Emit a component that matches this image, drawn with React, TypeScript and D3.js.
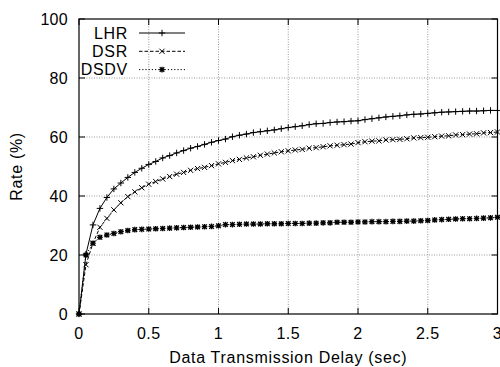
import React from "react";
import * as d3 from "d3";

const delays: number[] = Array.from({ length: 61 }, (_, i) => +(i * 0.05).toFixed(2));

const lhr: number[] = [
  0, 20.3, 30.2, 35.8, 39.5, 42.4, 44.4, 46.3, 48.0, 49.4, 50.7,
  51.7, 52.9, 53.7, 54.6, 55.4, 56.2, 56.8, 57.5, 58.2, 58.8,
  59.3, 60.1, 60.6, 61.0, 61.5, 61.8, 62.1, 62.4, 62.8, 63.2,
  63.5, 63.8, 64.2, 64.5, 64.6, 64.9, 65.1, 65.2, 65.4, 65.5,
  65.9, 66.2, 66.5, 66.8, 67.0, 67.2, 67.5, 67.7, 67.8, 68.0,
  68.2, 68.4, 68.5, 68.6, 68.7, 68.8, 68.8, 68.9, 69.0, 69.0,
];

const dsr: number[] = [
  0, 16.7, 24.0, 29.4, 32.4, 35.3, 37.7, 39.8, 41.4, 42.8, 44.0,
  44.9, 45.8, 46.6, 47.4, 48.0, 48.7, 49.3, 49.7, 50.3, 50.9,
  51.4, 52.0, 52.4, 52.9, 53.3, 53.8, 54.2, 54.6, 55.0, 55.3,
  55.6, 55.8, 56.2, 56.4, 56.7, 57.0, 57.2, 57.4, 57.6, 58.1,
  58.4, 58.6, 58.7, 59.0, 59.1, 59.2, 59.4, 59.7, 59.8, 59.9,
  60.1, 60.3, 60.4, 60.7, 60.8, 61.0, 61.1, 61.4, 61.5, 61.7,
];

const dsdv: number[] = [
  0, 20.0, 24.0, 26.0, 26.8, 27.3, 27.9, 28.3, 28.6, 28.7, 28.8,
  28.9, 29.0, 29.1, 29.2, 29.3, 29.4, 29.5, 29.6, 29.7, 29.9,
  30.3, 30.3, 30.4, 30.5, 30.5, 30.5, 30.6, 30.6, 30.6, 30.7,
  30.7, 30.7, 30.8, 30.8, 30.9, 30.9, 31.1, 31.1, 31.1, 31.2,
  31.2, 31.3, 31.3, 31.3, 31.4, 31.4, 31.5, 31.5, 31.6, 31.7,
  31.9, 32.0, 32.1, 32.2, 32.3, 32.3, 32.4, 32.5, 32.6, 32.8,
];

const xTicks: number[] = [0, 0.5, 1, 1.5, 2, 2.5, 3];
const yTicks: number[] = [0, 20, 40, 60, 80, 100];
const seriesNames: string[] = ["LHR", "DSR", "DSDV"];

const FONT = "'Liberation Sans', Arial, sans-serif";

type Kind = "plus" | "cross" | "star";

function Marker({ x, y, kind }: { x: number; y: number; kind: Kind }) {
  const p = kind === "star" ? 2.8 : 3.2;
  const c = kind === "star" ? 2.3 : 2.6;
  const plus = `M${x - p},${y}H${x + p}M${x},${y - p}V${y + p}`;
  const cross = `M${x - c},${y - c}L${x + c},${y + c}M${x - c},${y + c}L${x + c},${y - c}`;
  const d = kind === "plus" ? plus : kind === "cross" ? cross : plus + cross;
  return <path d={d} stroke="#000" strokeWidth={kind === "star" ? 1.3 : 1} fill="none" />;
}

export default function App() {
  const W = 500;
  const H = 367;
  const left = 79;
  const right = 497.5;
  const top = 19;
  const bottom = 314;

  const x = d3.scaleLinear().domain([0, 3]).range([left, right]);
  const y = d3.scaleLinear().domain([0, 100]).range([bottom, top]);

  const series = [
    { name: seriesNames[0], data: lhr, kind: "plus" as Kind, dash: undefined as string | undefined },
    { name: seriesNames[1], data: dsr, kind: "cross" as Kind, dash: "3.5,2" },
    { name: seriesNames[2], data: dsdv, kind: "star" as Kind, dash: "1.2,2" },
  ];

  const line = d3
    .line<number>()
    .x((_, i) => x(delays[i]))
    .y((v) => y(v));

  const tickLen = 6;

  return (
    <svg
      width={W}
      height={H}
      style={{ position: "absolute", left: 0, top: 0, background: "#fff" }}
      fontFamily={FONT}
    >
      <rect x={0} y={0} width={W} height={H} fill="#fff" />
      {/* grid */}
      {xTicks.slice(1, -1).map((t) => (
        <line key={"gx" + t} x1={x(t)} x2={x(t)} y1={top} y2={bottom} stroke="#999" strokeWidth={1} strokeDasharray="1,1.5" />
      ))}
      {yTicks.slice(1, -1).map((t) => (
        <line key={"gy" + t} x1={left} x2={right} y1={y(t)} y2={y(t)} stroke="#999" strokeWidth={1} strokeDasharray="1,1.5" />
      ))}
      {/* ticks */}
      {xTicks.map((t) => (
        <g key={"tx" + t}>
          <line x1={x(t)} x2={x(t)} y1={bottom} y2={bottom - tickLen} stroke="#000" />
          <line x1={x(t)} x2={x(t)} y1={top} y2={top + tickLen} stroke="#000" />
          <text x={x(t)} y={339} textAnchor="middle" fontSize={16} letterSpacing={0.5} fill="#000">
            {String(t)}
          </text>
        </g>
      ))}
      {yTicks.map((t) => (
        <g key={"ty" + t}>
          <line x1={left} x2={left + tickLen} y1={y(t)} y2={y(t)} stroke="#000" />
          <line x1={right} x2={right - tickLen} y1={y(t)} y2={y(t)} stroke="#000" />
          <text x={68} y={y(t)} dy="0.36em" textAnchor="end" fontSize={16} letterSpacing={0.3} fill="#000">
            {String(t)}
          </text>
        </g>
      ))}
      {/* series */}
      {series.map((s) => (
        <g key={s.name}>
          <path d={line(s.data) || ""} fill="none" stroke="#000" strokeWidth={1} strokeDasharray={s.dash} />
          {s.data.map((v, i) => (
            <Marker key={i} x={x(delays[i])} y={y(v)} kind={s.kind} />
          ))}
        </g>
      ))}
      {/* frame */}
      <rect x={left} y={top} width={right - left} height={bottom - top} fill="none" stroke="#000" strokeWidth={1.2} />
      {/* legend */}
      {series.map((s, i) => {
        const ly = 33 + i * 18.3;
        return (
          <g key={"lg" + s.name}>
            <text x={128} y={ly} dy="0.36em" textAnchor="end" fontSize={16} letterSpacing={0.7} fill="#000">
              {s.name}
            </text>
            <line x1={139} x2={185} y1={ly} y2={ly} stroke="#000" strokeWidth={1} strokeDasharray={s.dash} />
            <Marker x={162} y={ly} kind={s.kind} />
          </g>
        );
      })}
      {/* axis titles */}
      <text x={(left + right) / 2} y={363} textAnchor="middle" fontSize={16} letterSpacing={0.7} fill="#000">
        Data Transmission Delay (sec)
      </text>
      <text
        transform={`translate(22,${(top + bottom) / 2}) rotate(-90)`}
        textAnchor="middle"
        fontSize={16}
        letterSpacing={0.7}
        fill="#000"
      >
        Rate (%)
      </text>
    </svg>
  );
}
